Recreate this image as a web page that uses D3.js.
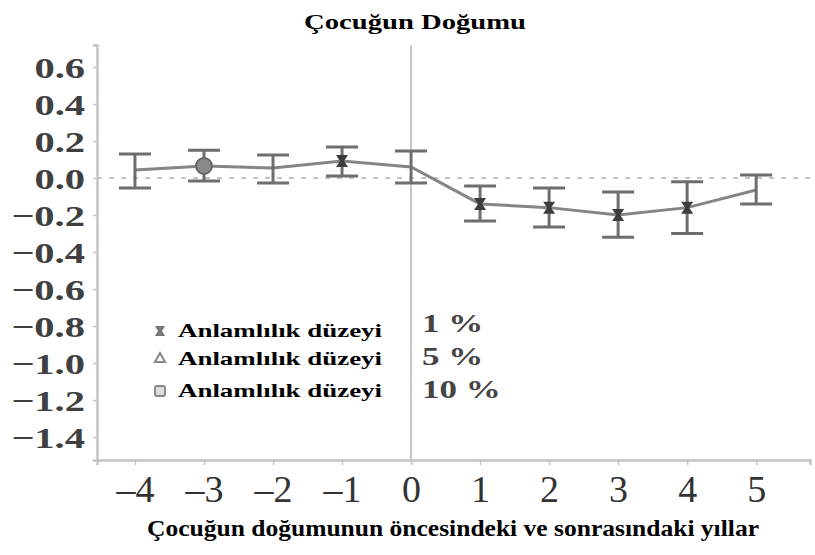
<!DOCTYPE html>
<html lang="en">
<head>
<meta charset="utf-8">
<title>Çocuğun Doğumu</title>
<script src="https://cdn.jsdelivr.net/npm/d3@7"></script>
<style>
  body { margin: 0; background: #fff; }
</style>
</head>
<body>
<div id="chart"></div>
<script>
// years relative to birth
var years = [-4, -3, -2, -1, 0, 1, 2, 3, 4, 5];
var estimate = [0.043, 0.065, 0.054, 0.092, 0.06, -0.14, -0.16, -0.2, -0.16, -0.065];
var upper = [0.13, 0.15, 0.124, 0.168, 0.146, -0.043, -0.054, -0.076, -0.02, 0.016];
var lower = [-0.054, -0.016, -0.027, 0.011, -0.027, -0.232, -0.265, -0.32, -0.30, -0.14];
// significance: 1, 5, 10 or 0 (none)
var signif = [0, 10, 0, 1, 0, 1, 1, 1, 1, 0];
var yTicks = [0.6, 0.4, 0.2, 0.0, -0.2, -0.4, -0.6, -0.8, -1.0, -1.2, -1.4];
var legendLabels = ["Anlamlılık düzeyi", "Anlamlılık düzeyi", "Anlamlılık düzeyi"];
var legendLevels = ["1 %", "5 %", "10 %"];
var legendShapes = ["bowtie", "triangle", "square"];

var serif = "'Liberation Serif', 'Times New Roman', serif";
var W = 815, H = 555;
var x = d3.scaleLinear().domain([-4.55, 5.78]).range([97, 810]);
var y = d3.scaleLinear().domain([-1.524, 0.719]).range([460, 45]);

var svg = d3.select("#chart").append("svg")
    .attr("width", W).attr("height", H);

// stretch a text sideways, like the reference picture
function stretch(sel, k) {
  sel.each(function() {
    var w = this.getComputedTextLength();
    d3.select(this).attr("textLength", w * k).attr("lengthAdjust", "spacingAndGlyphs");
  });
}

// title
svg.append("text")
    .attr("x", 415).attr("y", 29)
    .attr("text-anchor", "middle")
    .attr("font-family", serif)
    .attr("font-weight", "bold")
    .attr("font-size", 21)
    .attr("textLength", 222).attr("lengthAdjust", "spacingAndGlyphs")
    .text("Çocuğun Doğumu");

// zero dashed line
svg.append("line")
    .attr("x1", x(-4.55)).attr("x2", x(5.78))
    .attr("y1", y(0)).attr("y2", y(0))
    .attr("stroke", "#c4c4c4").attr("stroke-width", 2)
    .attr("stroke-dasharray", "5,7");

// vertical line at 0
svg.append("line")
    .attr("x1", x(0)).attr("x2", x(0))
    .attr("y1", y(0.719)).attr("y2", y(-1.524))
    .attr("stroke", "#c8c8c8").attr("stroke-width", 2);

// axes
var yAxis = d3.axisLeft(y).tickValues(yTicks).tickSize(4).tickPadding(8)
    .tickFormat(function(d) { return d3.format(".1f")(d).replace("-", "\u2013"); });
var gy = svg.append("g").attr("transform", "translate(97,0)").call(yAxis);
gy.attr("font-family", serif);
gy.selectAll("text")
    .attr("font-family", serif).attr("font-weight", "bold")
    .attr("font-size", 30).attr("dy", "0.34em").attr("fill", "#404040")
    .call(stretch, 1.35);

var xAxis = d3.axisBottom(x).tickValues(years).tickSize(5).tickPadding(10)
    .tickFormat(function(d) { return String(d).replace("-", "\u2013"); });
var gx = svg.append("g").attr("transform", "translate(0,460)").call(xAxis);
gx.attr("font-family", serif);
gx.selectAll("text")
    .attr("font-family", serif)
    .attr("font-size", 38).attr("fill", "#333");

[gx, gy].forEach(function(g) {
  g.select(".domain").attr("stroke", "#c4c4c4").attr("stroke-width", 2.5);
  g.selectAll(".tick line").attr("stroke", "#c4c4c4").attr("stroke-width", 1.5);
});

var plot = svg.append("g");
var idx = d3.range(years.length);

// connecting line
plot.append("path")
    .datum(idx)
    .attr("fill", "none").attr("stroke", "#858585").attr("stroke-width", 3)
    .attr("d", d3.line().x(function(i) { return x(years[i]); }).y(function(i) { return y(estimate[i]); }));

// error bars
var cap = 16;
var eb = plot.selectAll(".eb").data(idx).enter().append("g")
    .attr("stroke", "#6e6e6e").attr("stroke-width", 3);
eb.append("line")
    .attr("x1", function(i) { return x(years[i]); }).attr("x2", function(i) { return x(years[i]); })
    .attr("y1", function(i) { return y(upper[i]); }).attr("y2", function(i) { return y(lower[i]); });
eb.append("line")
    .attr("x1", function(i) { return x(years[i]) - cap; }).attr("x2", function(i) { return x(years[i]) + cap; })
    .attr("y1", function(i) { return y(upper[i]); }).attr("y2", function(i) { return y(upper[i]); });
eb.append("line")
    .attr("x1", function(i) { return x(years[i]) - cap; }).attr("x2", function(i) { return x(years[i]) + cap; })
    .attr("y1", function(i) { return y(lower[i]); }).attr("y2", function(i) { return y(lower[i]); });

function bowtie(cx, cy, s) {
  return "M" + (cx - s) + "," + (cy - s) + "L" + (cx + s) + "," + (cy - s) +
         "L" + (cx + 2) + "," + cy + "L" + (cx + s) + "," + (cy + s) +
         "L" + (cx - s) + "," + (cy + s) + "L" + (cx - 2) + "," + cy + "Z";
}

// markers
idx.forEach(function(i) {
  var cx = x(years[i]), cy = y(estimate[i]);
  if (signif[i] === 1) {
    plot.append("path").attr("d", bowtie(cx, cy, 6)).attr("fill", "#3c3c3c");
  } else if (signif[i] === 10) {
    plot.append("circle").attr("cx", cx).attr("cy", cy).attr("r", 8)
        .attr("fill", "#8a8a8a").attr("stroke", "#666").attr("stroke-width", 2);
  } else if (signif[i] === 5) {
    plot.append("path").attr("d", d3.symbol(d3.symbolTriangle, 90)())
        .attr("transform", "translate(" + cx + "," + cy + ")").attr("fill", "#777");
  }
});

// legend
var legY = [331, 359, 391];
var pctY = [323, 356, 389];
var leg = svg.append("g");
legendLabels.forEach(function(lbl, i) {
  var cy = legY[i];
  if (legendShapes[i] === "bowtie") {
    leg.append("path").attr("d", bowtie(160, cy, 5)).attr("fill", "#777");
  } else if (legendShapes[i] === "triangle") {
    leg.append("path").attr("d", d3.symbol(d3.symbolTriangle, 45)())
        .attr("transform", "translate(160," + cy + ")")
        .attr("fill", "none").attr("stroke", "#888").attr("stroke-width", 2);
  } else {
    leg.append("rect").attr("x", 155).attr("y", cy - 5).attr("width", 10).attr("height", 10)
        .attr("rx", 2).attr("fill", "#ddd").attr("stroke", "#888").attr("stroke-width", 2);
  }
  leg.append("text")
      .attr("x", 178).attr("y", cy + 6)
      .attr("font-family", serif).attr("font-weight", "bold")
      .attr("font-size", 19)
      .attr("textLength", 204).attr("lengthAdjust", "spacingAndGlyphs")
      .text(lbl);
  leg.append("text")
      .attr("x", 422).attr("y", pctY[i]).attr("dy", "0.34em")
      .attr("font-family", serif).attr("font-weight", "bold")
      .attr("font-size", 25).attr("fill", "#454545")
      .text(legendLevels[i])
      .call(stretch, 1.4);
});

// x-axis title
svg.append("text")
    .attr("x", 453).attr("y", 536)
    .attr("text-anchor", "middle")
    .attr("font-family", serif)
    .attr("font-weight", "bold")
    .attr("font-size", 23)
    .attr("textLength", 612).attr("lengthAdjust", "spacingAndGlyphs")
    .text("Çocuğun doğumunun öncesindeki ve sonrasındaki yıllar");
</script>
</body>
</html>
